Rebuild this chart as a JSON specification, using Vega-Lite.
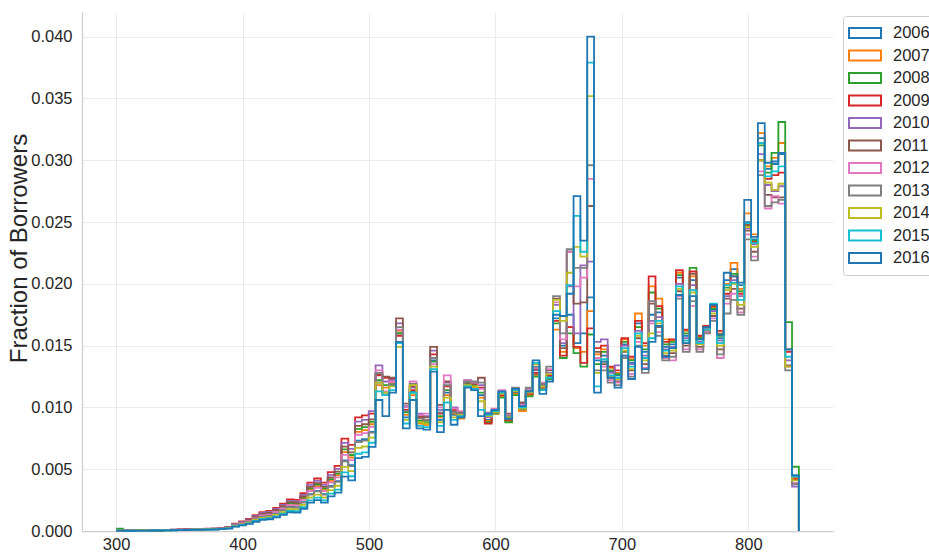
{
  "$schema": "https://vega.github.io/schema/vega-lite/v6.json",
  "width": 751,
  "height": 519,
  "autosize": {"type": "none"},
  "padding": {"left": 82, "top": 12, "right": 96, "bottom": 21},
  "background": "white",
  "config": {"font": "Liberation Sans", "view": {"stroke": null}},
  "data": {"values": [
{"s":300,"2006":0.00004,"2007":0.00004,"2008":0.0002,"2009":0.00005,"2010":0.00005,"2011":0.00005,"2012":0.00004,"2013":0.00004,"2014":0.00004,"2015":0.00003,"2016":0.00003},
{"s":305.4,"2006":0.00003,"2007":0.00003,"2008":0.00003,"2009":0.00003,"2010":0.00003,"2011":0.00003,"2012":0.00003,"2013":0.00003,"2014":0.00002,"2015":0.00002,"2016":0.00002},
{"s":310.8,"2006":0.00003,"2007":0.00003,"2008":0.00003,"2009":0.00003,"2010":0.00003,"2011":0.00003,"2012":0.00003,"2013":0.00003,"2014":0.00002,"2015":0.00002,"2016":0.00002},
{"s":316.2,"2006":0.00004,"2007":0.00004,"2008":0.00005,"2009":0.00005,"2010":0.00005,"2011":0.00005,"2012":0.00004,"2013":0.00004,"2014":0.00004,"2015":0.00003,"2016":0.00003},
{"s":321.6,"2006":0.00004,"2007":0.00004,"2008":0.00005,"2009":0.00005,"2010":0.00005,"2011":0.00005,"2012":0.00004,"2013":0.00004,"2014":0.00004,"2015":0.00003,"2016":0.00003},
{"s":327,"2006":0.00005,"2007":0.00006,"2008":0.00006,"2009":0.00007,"2010":0.00006,"2011":0.00006,"2012":0.00006,"2013":0.00005,"2014":0.00005,"2015":0.00004,"2016":0.00004},
{"s":332.4,"2006":0.00005,"2007":0.00006,"2008":0.00006,"2009":0.00007,"2010":0.00006,"2011":0.00006,"2012":0.00006,"2013":0.00005,"2014":0.00005,"2015":0.00004,"2016":0.00004},
{"s":337.8,"2006":0.00007,"2007":0.00007,"2008":0.00008,"2009":0.00009,"2010":0.00008,"2011":0.00008,"2012":0.00007,"2013":0.00006,"2014":0.00006,"2015":0.00005,"2016":0.00005},
{"s":343.2,"2006":0.00008,"2007":0.00009,"2008":0.00009,"2009":0.0001,"2010":0.0001,"2011":0.00009,"2012":0.00008,"2013":0.00008,"2014":0.00007,"2015":0.00006,"2016":0.00006},
{"s":348.6,"2006":0.00009,"2007":0.0001,"2008":0.00011,"2009":0.00012,"2010":0.00011,"2011":0.00011,"2012":0.0001,"2013":0.00009,"2014":0.00008,"2015":0.00008,"2016":0.00007},
{"s":354,"2006":0.0001,"2007":0.00012,"2008":0.00012,"2009":0.00014,"2010":0.00013,"2011":0.00012,"2012":0.00011,"2013":0.0001,"2014":0.00009,"2015":0.00009,"2016":0.00008},
{"s":359.4,"2006":0.00012,"2007":0.00013,"2008":0.00014,"2009":0.00015,"2010":0.00015,"2011":0.00014,"2012":0.00013,"2013":0.00012,"2014":0.00011,"2015":0.0001,"2016":0.00009},
{"s":364.8,"2006":0.00013,"2007":0.00015,"2008":0.00015,"2009":0.00017,"2010":0.00016,"2011":0.00016,"2012":0.00014,"2013":0.00013,"2014":0.00012,"2015":0.00011,"2016":0.0001},
{"s":370.2,"2006":0.00014,"2007":0.00016,"2008":0.00017,"2009":0.00019,"2010":0.00018,"2011":0.00017,"2012":0.00015,"2013":0.00014,"2014":0.00013,"2015":0.00012,"2016":0.00011},
{"s":375.6,"2006":0.00016,"2007":0.00017,"2008":0.00018,"2009":0.0002,"2010":0.00019,"2011":0.00019,"2012":0.00017,"2013":0.00015,"2014":0.00014,"2015":0.00013,"2016":0.00012},
{"s":381,"2006":0.0002,"2007":0.00022,"2008":0.00023,"2009":0.00026,"2010":0.00024,"2011":0.00023,"2012":0.00021,"2013":0.00019,"2014":0.00018,"2015":0.00016,"2016":0.00015},
{"s":386.4,"2006":0.00026,"2007":0.00029,"2008":0.0003,"2009":0.00034,"2010":0.00032,"2011":0.00031,"2012":0.00028,"2013":0.00026,"2014":0.00024,"2015":0.00022,"2016":0.0002},
{"s":391.8,"2006":0.00046,"2007":0.00051,"2008":0.00053,"2009":0.0006,"2010":0.00057,"2011":0.00054,"2012":0.00049,"2013":0.00045,"2014":0.00041,"2015":0.00038,"2016":0.00035},
{"s":397.2,"2006":0.00059,"2007":0.00065,"2008":0.00068,"2009":0.00077,"2010":0.00073,"2011":0.0007,"2012":0.00063,"2013":0.00058,"2014":0.00053,"2015":0.00049,"2016":0.00045},
{"s":402.6,"2006":0.00074,"2007":0.00083,"2008":0.00086,"2009":0.00097,"2010":0.00092,"2011":0.00088,"2012":0.0008,"2013":0.00073,"2014":0.00067,"2015":0.00062,"2016":0.00057},
{"s":408,"2006":0.00098,"2007":0.00109,"2008":0.00113,"2009":0.00128,"2010":0.00122,"2011":0.00116,"2012":0.00105,"2013":0.00096,"2014":0.00089,"2015":0.00081,"2016":0.00075},
{"s":413.4,"2006":0.00117,"2007":0.00131,"2008":0.00135,"2009":0.00153,"2010":0.00146,"2011":0.0014,"2012":0.00126,"2013":0.00115,"2014":0.00106,"2015":0.00097,"2016":0.0009},
{"s":418.8,"2006":0.00124,"2007":0.00138,"2008":0.00143,"2009":0.00162,"2010":0.00154,"2011":0.00147,"2012":0.00133,"2013":0.00122,"2014":0.00112,"2015":0.00103,"2016":0.00095},
{"s":424.2,"2006":0.00143,"2007":0.0016,"2008":0.00165,"2009":0.00187,"2010":0.00178,"2011":0.00171,"2012":0.00154,"2013":0.00141,"2014":0.0013,"2015":0.00119,"2016":0.0011},
{"s":429.6,"2006":0.00169,"2007":0.00189,"2008":0.00195,"2009":0.00221,"2010":0.00211,"2011":0.00202,"2012":0.00182,"2013":0.00166,"2014":0.00153,"2015":0.0014,"2016":0.0013},
{"s":435,"2006":0.00195,"2007":0.00218,"2008":0.00225,"2009":0.00255,"2010":0.00243,"2011":0.00233,"2012":0.0021,"2013":0.00192,"2014":0.00177,"2015":0.00162,"2016":0.0015},
{"s":440.4,"2006":0.00192,"2007":0.00215,"2008":0.00222,"2009":0.00252,"2010":0.0024,"2011":0.00229,"2012":0.00207,"2013":0.00189,"2014":0.00175,"2015":0.0016,"2016":0.00148},
{"s":445.8,"2006":0.00234,"2007":0.00261,"2008":0.0027,"2009":0.00306,"2010":0.00292,"2011":0.00279,"2012":0.00252,"2013":0.0023,"2014":0.00212,"2015":0.00194,"2016":0.0018},
{"s":451.2,"2006":0.00299,"2007":0.00334,"2008":0.00345,"2009":0.00391,"2010":0.00373,"2011":0.00357,"2012":0.00322,"2013":0.00294,"2014":0.00271,"2015":0.00248,"2016":0.0023},
{"s":456.6,"2006":0.00325,"2007":0.00363,"2008":0.00375,"2009":0.00425,"2010":0.00405,"2011":0.00388,"2012":0.0035,"2013":0.0032,"2014":0.00295,"2015":0.0027,"2016":0.0025},
{"s":462,"2006":0.00299,"2007":0.00334,"2008":0.00345,"2009":0.00391,"2010":0.00373,"2011":0.00357,"2012":0.00322,"2013":0.00294,"2014":0.00271,"2015":0.00248,"2016":0.0023},
{"s":467.4,"2006":0.00364,"2007":0.00406,"2008":0.0042,"2009":0.00476,"2010":0.00454,"2011":0.00434,"2012":0.00392,"2013":0.00358,"2014":0.0033,"2015":0.00302,"2016":0.0028},
{"s":472.8,"2006":0.00403,"2007":0.0045,"2008":0.00465,"2009":0.00527,"2010":0.00502,"2011":0.00481,"2012":0.00434,"2013":0.00397,"2014":0.00366,"2015":0.00335,"2016":0.0031},
{"s":478.2,"2006":0.00572,"2007":0.00638,"2008":0.0066,"2009":0.00748,"2010":0.00713,"2011":0.00682,"2012":0.00616,"2013":0.00563,"2014":0.00519,"2015":0.00475,"2016":0.0044},
{"s":483.6,"2006":0.00533,"2007":0.00595,"2008":0.00615,"2009":0.00697,"2010":0.00664,"2011":0.00636,"2012":0.00574,"2013":0.00525,"2014":0.00484,"2015":0.00443,"2016":0.0041},
{"s":489,"2006":0.00732,"2007":0.00802,"2008":0.00826,"2009":0.0092,"2010":0.00885,"2011":0.0085,"2012":0.00779,"2013":0.0072,"2014":0.00673,"2015":0.00625,"2016":0.0059},
{"s":494.4,"2006":0.00744,"2007":0.00816,"2008":0.0084,"2009":0.00936,"2010":0.009,"2011":0.00864,"2012":0.00792,"2013":0.00732,"2014":0.00684,"2015":0.00636,"2016":0.006},
{"s":499.8,"2006":0.00802,"2007":0.00864,"2008":0.00884,"2009":0.0095,"2010":0.0097,"2011":0.00904,"2012":0.00843,"2013":0.00796,"2014":0.00755,"2015":0.00714,"2016":0.0068},
{"s":505.2,"2006":0.012,"2007":0.0118,"2008":0.0122,"2009":0.0126,"2010":0.0134,"2011":0.0127,"2012":0.013,"2013":0.0128,"2014":0.012,"2015":0.0113,"2016":0.0106},
{"s":510.6,"2006":0.0112,"2007":0.0116,"2008":0.0118,"2009":0.0124,"2010":0.0121,"2011":0.0125,"2012":0.0113,"2013":0.011,"2014":0.0112,"2015":0.011,"2016":0.0093},
{"s":516,"2006":0.0118,"2007":0.012,"2008":0.0119,"2009":0.0123,"2010":0.0122,"2011":0.0124,"2012":0.0121,"2013":0.0119,"2014":0.0117,"2015":0.0114,"2016":0.0112},
{"s":521.4,"2006":0.016,"2007":0.0162,"2008":0.016,"2009":0.0158,"2010":0.0168,"2011":0.0172,"2012":0.0163,"2013":0.0165,"2014":0.0149,"2015":0.0152,"2016":0.0153},
{"s":526.8,"2006":0.0092,"2007":0.0094,"2008":0.0096,"2009":0.0098,"2010":0.0101,"2011":0.0103,"2012":0.01,"2013":0.0097,"2014":0.009,"2015":0.0087,"2016":0.0083},
{"s":532.2,"2006":0.0113,"2007":0.011,"2008":0.0112,"2009":0.0114,"2010":0.0116,"2011":0.0117,"2012":0.0121,"2013":0.0119,"2014":0.0118,"2015":0.0112,"2016":0.0106},
{"s":537.6,"2006":0.0088,"2007":0.0087,"2008":0.0089,"2009":0.0092,"2010":0.0095,"2011":0.0093,"2012":0.0094,"2013":0.0091,"2014":0.0088,"2015":0.0085,"2016":0.0083},
{"s":543,"2006":0.0087,"2007":0.0086,"2008":0.0088,"2009":0.009,"2010":0.0093,"2011":0.0092,"2012":0.0095,"2013":0.009,"2014":0.0087,"2015":0.0084,"2016":0.0082},
{"s":548.4,"2006":0.0138,"2007":0.014,"2008":0.0137,"2009":0.0143,"2010":0.0146,"2011":0.0149,"2012":0.0135,"2013":0.014,"2014":0.0133,"2015":0.0131,"2016":0.0129},
{"s":553.8,"2006":0.009,"2007":0.0092,"2008":0.0093,"2009":0.0095,"2010":0.0098,"2011":0.0102,"2012":0.01,"2013":0.0096,"2014":0.0088,"2015":0.0085,"2016":0.008},
{"s":559.2,"2006":0.0112,"2007":0.011,"2008":0.0114,"2009":0.0117,"2010":0.012,"2011":0.0121,"2012":0.0126,"2013":0.0118,"2014":0.0108,"2015":0.0104,"2016":0.0098},
{"s":564.6,"2006":0.0094,"2007":0.0095,"2008":0.0096,"2009":0.0098,"2010":0.01,"2011":0.0097,"2012":0.0099,"2013":0.0096,"2014":0.0092,"2015":0.009,"2016":0.0086},
{"s":570,"2006":0.0093,"2007":0.0091,"2008":0.0092,"2009":0.0094,"2010":0.0095,"2011":0.0096,"2012":0.0097,"2013":0.0095,"2014":0.0094,"2015":0.0093,"2016":0.0092},
{"s":575.4,"2006":0.0117,"2007":0.0118,"2008":0.0119,"2009":0.0121,"2010":0.0122,"2011":0.012,"2012":0.0122,"2013":0.0121,"2014":0.0118,"2015":0.0117,"2016":0.0116},
{"s":580.8,"2006":0.0117,"2007":0.0116,"2008":0.0118,"2009":0.0119,"2010":0.012,"2011":0.0119,"2012":0.012,"2013":0.0121,"2014":0.0117,"2015":0.0115,"2016":0.0114},
{"s":586.2,"2006":0.011,"2007":0.0108,"2008":0.0112,"2009":0.0116,"2010":0.0118,"2011":0.0124,"2012":0.0115,"2013":0.012,"2014":0.0105,"2015":0.0098,"2016":0.0093},
{"s":591.6,"2006":0.009,"2007":0.0089,"2008":0.0088,"2009":0.0087,"2010":0.0092,"2011":0.0094,"2012":0.0096,"2013":0.0095,"2014":0.0093,"2015":0.0094,"2016":0.0095},
{"s":597,"2006":0.0096,"2007":0.0095,"2008":0.0095,"2009":0.0096,"2010":0.0097,"2011":0.0098,"2012":0.0099,"2013":0.0097,"2014":0.0096,"2015":0.0097,"2016":0.0098},
{"s":602.4,"2006":0.011,"2007":0.0109,"2008":0.0108,"2009":0.011,"2010":0.0112,"2011":0.0113,"2012":0.0114,"2013":0.0112,"2014":0.0111,"2015":0.0112,"2016":0.0113},
{"s":607.8,"2006":0.009,"2007":0.0089,"2008":0.0088,"2009":0.009,"2010":0.0093,"2011":0.0095,"2012":0.0094,"2013":0.0093,"2014":0.0092,"2015":0.0091,"2016":0.0091},
{"s":613.2,"2006":0.0112,"2007":0.0111,"2008":0.011,"2009":0.0113,"2010":0.0114,"2011":0.0115,"2012":0.0114,"2013":0.0116,"2014":0.0113,"2015":0.0114,"2016":0.0115},
{"s":618.6,"2006":0.0098,"2007":0.0097,"2008":0.0099,"2009":0.0101,"2010":0.0103,"2011":0.0104,"2012":0.0102,"2013":0.01,"2014":0.0099,"2015":0.01,"2016":0.0101},
{"s":624,"2006":0.0112,"2007":0.011,"2008":0.0109,"2009":0.0111,"2010":0.0113,"2011":0.0114,"2012":0.0115,"2013":0.0116,"2014":0.0112,"2015":0.0113,"2016":0.0113},
{"s":629.4,"2006":0.0127,"2007":0.0126,"2008":0.0125,"2009":0.0128,"2010":0.013,"2011":0.0131,"2012":0.0132,"2013":0.0133,"2014":0.0135,"2015":0.0136,"2016":0.0138},
{"s":634.8,"2006":0.0115,"2007":0.0116,"2008":0.0114,"2009":0.0117,"2010":0.0118,"2011":0.0119,"2012":0.012,"2013":0.0119,"2014":0.0117,"2015":0.0114,"2016":0.0111},
{"s":640.2,"2006":0.0125,"2007":0.0124,"2008":0.0123,"2009":0.0126,"2010":0.0128,"2011":0.013,"2012":0.0131,"2013":0.0133,"2014":0.0127,"2015":0.0124,"2016":0.0121},
{"s":645.6,"2006":0.0172,"2007":0.0163,"2008":0.0168,"2009":0.017,"2010":0.0183,"2011":0.0188,"2012":0.0185,"2013":0.019,"2014":0.0187,"2015":0.0178,"2016":0.0175},
{"s":651,"2006":0.015,"2007":0.0145,"2008":0.014,"2009":0.0142,"2010":0.0152,"2011":0.0148,"2012":0.0155,"2013":0.016,"2014":0.017,"2015":0.0174,"2016":0.0174},
{"s":656.4,"2006":0.0175,"2007":0.0165,"2008":0.016,"2009":0.0165,"2010":0.0198,"2011":0.0226,"2012":0.0226,"2013":0.0228,"2014":0.0209,"2015":0.0199,"2016":0.0192},
{"s":661.8,"2006":0.0152,"2007":0.0148,"2008":0.0144,"2009":0.0149,"2010":0.016,"2011":0.0184,"2012":0.0198,"2013":0.0213,"2014":0.023,"2015":0.0255,"2016":0.0271},
{"s":667.2,"2006":0.016,"2007":0.0145,"2008":0.0133,"2009":0.0136,"2010":0.0215,"2011":0.0185,"2012":0.0205,"2013":0.0213,"2014":0.0222,"2015":0.0226,"2016":0.0235},
{"s":672.6,"2006":0.0189,"2007":0.0178,"2008":0.0159,"2009":0.0164,"2010":0.0218,"2011":0.0263,"2012":0.0285,"2013":0.0296,"2014":0.0352,"2015":0.0379,"2016":0.04},
{"s":678,"2006":0.0138,"2007":0.0143,"2008":0.0135,"2009":0.0148,"2010":0.0153,"2011":0.0145,"2012":0.014,"2013":0.013,"2014":0.0128,"2015":0.0117,"2016":0.0112},
{"s":683.4,"2006":0.0142,"2007":0.0147,"2008":0.0145,"2009":0.015,"2010":0.0155,"2011":0.0135,"2012":0.0133,"2013":0.013,"2014":0.0137,"2015":0.0139,"2016":0.0137},
{"s":688.8,"2006":0.0129,"2007":0.0132,"2008":0.013,"2009":0.0133,"2010":0.0128,"2011":0.0124,"2012":0.0122,"2013":0.012,"2014":0.0125,"2015":0.0126,"2016":0.0124},
{"s":694.2,"2006":0.0126,"2007":0.0128,"2008":0.0127,"2009":0.013,"2010":0.0134,"2011":0.0121,"2012":0.012,"2013":0.0118,"2014":0.0123,"2015":0.0124,"2016":0.0116},
{"s":699.6,"2006":0.0151,"2007":0.0155,"2008":0.0153,"2009":0.0156,"2010":0.015,"2011":0.0145,"2012":0.0142,"2013":0.014,"2014":0.0146,"2015":0.0148,"2016":0.0142},
{"s":705,"2006":0.0136,"2007":0.0139,"2008":0.0138,"2009":0.0141,"2010":0.0135,"2011":0.013,"2012":0.0127,"2013":0.0125,"2014":0.0131,"2015":0.0133,"2016":0.0123},
{"s":710.4,"2006":0.0168,"2007":0.0176,"2008":0.0165,"2009":0.017,"2010":0.0162,"2011":0.0156,"2012":0.0153,"2013":0.015,"2014":0.0158,"2015":0.016,"2016":0.0149},
{"s":715.8,"2006":0.0145,"2007":0.015,"2008":0.0147,"2009":0.0152,"2010":0.0142,"2011":0.0135,"2012":0.0132,"2013":0.0128,"2014":0.0138,"2015":0.014,"2016":0.0131},
{"s":721.2,"2006":0.0175,"2007":0.0198,"2008":0.0193,"2009":0.0206,"2010":0.017,"2011":0.0184,"2012":0.0168,"2013":0.0186,"2014":0.016,"2015":0.0156,"2016":0.0153},
{"s":726.6,"2006":0.0177,"2007":0.0188,"2008":0.018,"2009":0.0182,"2010":0.0173,"2011":0.0165,"2012":0.0161,"2013":0.0158,"2014":0.0168,"2015":0.017,"2016":0.0166},
{"s":732,"2006":0.0149,"2007":0.0155,"2008":0.0151,"2009":0.0153,"2010":0.0147,"2011":0.0142,"2012":0.014,"2013":0.0138,"2014":0.0144,"2015":0.0146,"2016":0.0141},
{"s":737.4,"2006":0.0151,"2007":0.0154,"2008":0.0153,"2009":0.0155,"2010":0.0149,"2011":0.0144,"2012":0.0138,"2013":0.0141,"2014":0.0146,"2015":0.0148,"2016":0.0148},
{"s":742.8,"2006":0.0205,"2007":0.0209,"2008":0.0207,"2009":0.0211,"2010":0.02,"2011":0.0194,"2012":0.019,"2013":0.0188,"2014":0.0196,"2015":0.0198,"2016":0.0191},
{"s":748.2,"2006":0.0158,"2007":0.0162,"2008":0.016,"2009":0.0163,"2010":0.0156,"2011":0.015,"2012":0.0147,"2013":0.0145,"2014":0.0152,"2015":0.0154,"2016":0.0152},
{"s":753.6,"2006":0.0203,"2007":0.0206,"2008":0.0213,"2009":0.021,"2010":0.0199,"2011":0.0208,"2012":0.0182,"2013":0.0186,"2014":0.0193,"2015":0.0195,"2016":0.019},
{"s":759,"2006":0.0155,"2007":0.0157,"2008":0.0156,"2009":0.0158,"2010":0.0153,"2011":0.0149,"2012":0.0147,"2013":0.0145,"2014":0.0151,"2015":0.0152,"2016":0.0155},
{"s":764.4,"2006":0.0165,"2007":0.0166,"2008":0.0165,"2009":0.0166,"2010":0.0164,"2011":0.0162,"2012":0.0161,"2013":0.016,"2014":0.0163,"2015":0.0163,"2016":0.0165},
{"s":769.8,"2006":0.0179,"2007":0.0181,"2008":0.018,"2009":0.0182,"2010":0.0178,"2011":0.0174,"2012":0.0172,"2013":0.017,"2014":0.0176,"2015":0.0184,"2016":0.0183},
{"s":775.2,"2006":0.0156,"2007":0.016,"2008":0.0158,"2009":0.0162,"2010":0.0154,"2011":0.0147,"2012":0.014,"2013":0.0143,"2014":0.015,"2015":0.0152,"2016":0.0159},
{"s":780.6,"2006":0.0203,"2007":0.02,"2008":0.0197,"2009":0.0192,"2010":0.019,"2011":0.0188,"2012":0.0184,"2013":0.0176,"2014":0.0195,"2015":0.0199,"2016":0.0209},
{"s":786,"2006":0.0212,"2007":0.0217,"2008":0.0208,"2009":0.0206,"2010":0.0203,"2011":0.0196,"2012":0.0192,"2013":0.0187,"2014":0.02,"2015":0.0201,"2016":0.0206},
{"s":791.4,"2006":0.0199,"2007":0.0196,"2008":0.0194,"2009":0.0192,"2010":0.019,"2011":0.018,"2012":0.0177,"2013":0.0175,"2014":0.0183,"2015":0.0187,"2016":0.0201},
{"s":796.8,"2006":0.025,"2007":0.0257,"2008":0.0247,"2009":0.0248,"2010":0.0245,"2011":0.0243,"2012":0.024,"2013":0.0236,"2014":0.0246,"2015":0.0249,"2016":0.0268},
{"s":802.2,"2006":0.0236,"2007":0.024,"2008":0.0235,"2009":0.0234,"2010":0.0232,"2011":0.0226,"2012":0.0222,"2013":0.0219,"2014":0.023,"2015":0.0233,"2016":0.0238},
{"s":807.6,"2006":0.0318,"2007":0.0322,"2008":0.0312,"2009":0.03,"2010":0.0305,"2011":0.03,"2012":0.0291,"2013":0.0288,"2014":0.03,"2015":0.0314,"2016":0.033},
{"s":813,"2006":0.0293,"2007":0.0295,"2008":0.029,"2009":0.0285,"2010":0.028,"2011":0.0272,"2012":0.0261,"2013":0.0263,"2014":0.0282,"2015":0.0287,"2016":0.0298},
{"s":818.4,"2006":0.0297,"2007":0.0302,"2008":0.0306,"2009":0.0288,"2010":0.0275,"2011":0.027,"2012":0.0271,"2013":0.0266,"2014":0.0276,"2015":0.0291,"2016":0.0299},
{"s":823.8,"2006":0.0305,"2007":0.0314,"2008":0.0331,"2009":0.029,"2010":0.0279,"2011":0.027,"2012":0.0265,"2013":0.0268,"2014":0.0281,"2015":0.0295,"2016":0.0306},
{"s":829.2,"2006":0.0147,"2007":0.0147,"2008":0.0169,"2009":0.0145,"2010":0.0138,"2011":0.0134,"2012":0.0133,"2013":0.013,"2014":0.0133,"2015":0.0141,"2016":0.0147},
{"s":834.6,"2006":0.0045,"2007":0.0043,"2008":0.0052,"2009":0.0042,"2010":0.0036,"2011":0.0039,"2012":0.0039,"2013":0.0038,"2014":0.0041,"2015":0.0044,"2016":0.0045},
{"s":840,"2006":0,"2007":0,"2008":0,"2009":0,"2010":0,"2011":0,"2012":0,"2013":0,"2014":0,"2015":0,"2016":0}
  ]},
  "transform": [
    {"fold": ["2006","2007","2008","2009","2010","2011","2012","2013","2014","2015","2016"], "as": ["year", "frac"]}
  ],
  "mark": {"type": "line", "interpolate": "step-after", "strokeWidth": 1.8},
  "encoding": {
    "x": {
      "field": "s", "type": "quantitative",
      "scale": {"domain": [273, 867], "nice": false, "zero": false},
      "axis": {
        "title": null, "values": [300, 400, 500, 600, 700, 800], "format": "d",
        "ticks": false, "labelPadding": 5, "labelFontSize": 16.5, "labelColor": "#262626",
        "domainColor": "#cccccc", "domainWidth": 1.25,
        "gridColor": "#ebebeb", "gridWidth": 1
      }
    },
    "y": {
      "field": "frac", "type": "quantitative",
      "scale": {"domain": [0, 0.042], "nice": false},
      "axis": {
        "title": "Fraction of Borrowers", "titleFontSize": 24, "titleFontWeight": "normal", "titleColor": "#262626",
        "titleX": -56, "titleY": 236, "titleBaseline": "alphabetic", "titleAlign": "center", "titleAngle": -90,
        "values": [0, 0.005, 0.01, 0.015, 0.02, 0.025, 0.03, 0.035, 0.04], "format": ".3f",
        "ticks": false, "labelPadding": 10, "labelFontSize": 16.5, "labelColor": "#262626",
        "domainColor": "#cccccc", "domainWidth": 1.25,
        "gridColor": "#ebebeb", "gridWidth": 1
      }
    },
    "color": {
      "field": "year", "type": "nominal",
      "scale": {
        "domain": ["2006","2007","2008","2009","2010","2011","2012","2013","2014","2015","2016"],
        "range": ["#1f77b4","#ff7f0e","#2ca02c","#d62728","#9467bd","#8c564b","#e377c2","#7f7f7f","#bcbd22","#17becf","#1f77b4"]
      },
      "legend": {
        "title": null, "orient": "none", "legendX": 761, "legendY": 4,
        "padding": 8, "strokeColor": "#cccccc", "fillColor": "white", "cornerRadius": 3,
        "symbolType": "M-2,-0.625H2V0.625H-2Z", "symbolSize": 256, "symbolStrokeWidth": 2, "symbolFillColor": "transparent",
        "symbolOffset": 5,
        "labelFontSize": 16.5, "labelColor": "#262626", "labelOffset": 19, "rowPadding": 4.5
      }
    }
  }
}
